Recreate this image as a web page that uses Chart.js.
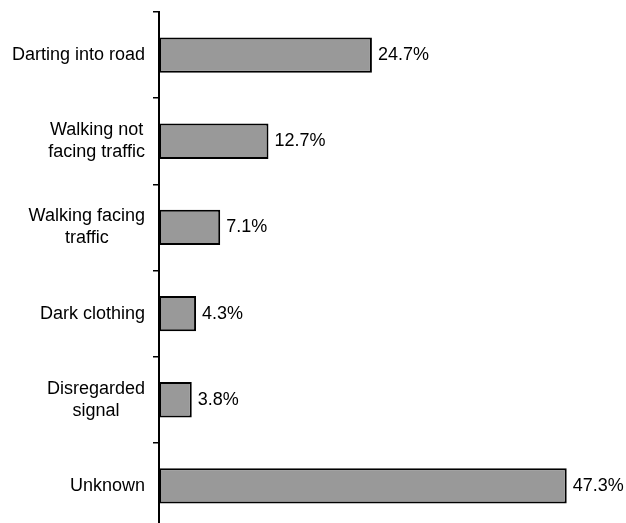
<!DOCTYPE html>
<html lang="en">
<head>
    <meta charset="UTF-8">
    <script src="https://cdn.jsdelivr.net/npm/chart.js"></script>
    <title>Pedestrian factors</title>
    <style>
        html, body { margin: 0; padding: 0; background: #fff; overflow: hidden; }
    </style>
</head>
<body>
    <canvas id="mychart" width="626" height="535"></canvas>

    <script>
        // data
        const categories = [
            ["Darting into road"],
            ["Walking not", "facing traffic"],
            ["Walking facing", "traffic"],
            ["Dark clothing"],
            ["Disregarded", "signal"],
            ["Unknown"]
        ];
        const shares = [24.7, 12.7, 7.1, 4.3, 3.8, 47.3];
        const valueLabels = ["24.7%", "12.7%", "7.1%", "4.3%", "3.8%", "47.3%"];

        const FONT = "18px 'Liberation Sans', Arial, sans-serif";

        // category labels: right aligned block, lines centred inside the block (like the original)
        const catLabels = {
            id: 'catLabels',
            afterDraw(chart) {
                const ctx = chart.ctx;
                const y = chart.scales.y;
                const rightEdge = y.left - 8;
                const lh = 22;
                ctx.save();
                ctx.font = FONT;
                ctx.fillStyle = '#000';
                ctx.textAlign = 'center';
                ctx.textBaseline = 'middle';
                categories.forEach((lines, i) => {
                    const cy = y.getPixelForValue(i);
                    let widest = 0;
                    lines.forEach(l => { widest = Math.max(widest, ctx.measureText(l).width); });
                    const cx = rightEdge - widest / 2;
                    const top = cy - (lines.length - 1) * lh / 2;
                    lines.forEach((l, k) => ctx.fillText(l, cx, top + k * lh));
                });
                ctx.restore();
            }
        };

        // percent labels at the end of each bar
        const valLabels = {
            id: 'valLabels',
            afterDatasetsDraw(chart) {
                const ctx = chart.ctx;
                const meta = chart.getDatasetMeta(0);
                ctx.save();
                ctx.font = FONT;
                ctx.fillStyle = '#000';
                ctx.textAlign = 'left';
                ctx.textBaseline = 'middle';
                meta.data.forEach((bar, i) => {
                    ctx.fillText(valueLabels[i], bar.x + 6, bar.y);
                });
                ctx.restore();
            }
        };

        let mychart = document.getElementById("mychart").getContext('2d');
        let charts = new Chart(mychart, {
            type: 'bar',
            data: {
                labels: categories.map(c => c.join(' ')),
                datasets: [{
                    data: shares,
                    backgroundColor: '#999999',
                    borderColor: '#000000',
                    borderWidth: 2,
                    borderSkipped: false,
                    categoryPercentage: 1,
                    barPercentage: 0.41
                }]
            },
            options: {
                indexAxis: 'y',
                responsive: false,
                animation: false,
                layout: {
                    padding: { left: 153, right: 36, top: 12, bottom: 6 }
                },
                plugins: {
                    legend: { display: false },
                    tooltip: { enabled: false }
                },
                scales: {
                    x: {
                        display: false,
                        min: 0,
                        max: 50
                    },
                    y: {
                        ticks: { display: false },
                        grid: {
                            drawOnChartArea: false,
                            drawTicks: true,
                            tickLength: 6,
                            color: '#000',
                            lineWidth: 1.5,
                            offset: true
                        },
                        border: { display: true, color: '#000', width: 2 }
                    }
                }
            },
            plugins: [catLabels, valLabels]
        });
    </script>
</body>
</html>
